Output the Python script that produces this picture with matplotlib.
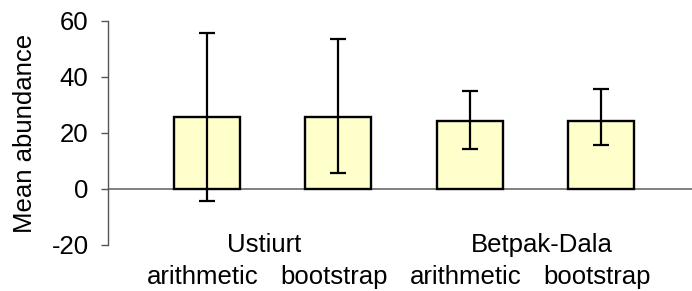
import matplotlib.pyplot as plt
import numpy as np

plt.rcParams['font.family'] = ['Liberation Sans', 'DejaVu Sans']
plt.rcParams['font.size'] = 18.5
plt.rcParams['axes.unicode_minus'] = False

methods = ['arithmetic', 'bootstrap', 'arithmetic', 'bootstrap']
groups = ['Ustiurt', 'Betpak-Dala']
group_pos = [0.44, 2.55]
means = [25.8, 25.8, 24.3, 24.3]
lower = [-4.3, 5.7, 14.3, 15.7]
upper = [55.7, 53.6, 35.0, 35.7]

x = np.arange(len(means))
means_a = np.array(means)
yerr = [means_a - np.array(lower), np.array(upper) - means_a]

fig = plt.figure(figsize=(6.92, 2.91), dpi=100)
ax = fig.add_axes([108/692, 46/291, 584/692, 224/291])

ax.bar(x, means, width=0.5, color='#FFFFCC', edgecolor='black', linewidth=1.7, zorder=3)
ax.errorbar(x, means, yerr=yerr, fmt='none', ecolor='black', elinewidth=1.6,
            capsize=5.5, capthick=1.6, zorder=4)
ax.axhline(0, color='#808080', linewidth=1.4, zorder=2)

ax.set_xlim(-0.75, 3.69)
ax.set_ylim(-20, 60)
ax.set_yticks([-20, 0, 20, 40, 60])
ax.tick_params(axis='y', direction='out', length=5, width=1, color='#555555', pad=9)
ax.tick_params(axis='x', length=0)
ax.set_xticks([])
for s in ['top', 'right', 'bottom']:
    ax.spines[s].set_visible(False)
ax.spines['left'].set_color('#555555')
ax.spines['left'].set_linewidth(1)

for xi, m in zip(x, methods):
    ax.text(xi - 0.03, -0.174, m, transform=ax.get_xaxis_transform(),
            ha='center', va='baseline')
for gp, g in zip(group_pos, groups):
    ax.text(gp, -0.031, g, transform=ax.get_xaxis_transform(),
            ha='center', va='baseline')

ax.text(-0.142, 0.5, 'Mean abundance', transform=ax.transAxes, rotation=90,
        ha='center', va='center')

fig.savefig('out.png', dpi=100)
